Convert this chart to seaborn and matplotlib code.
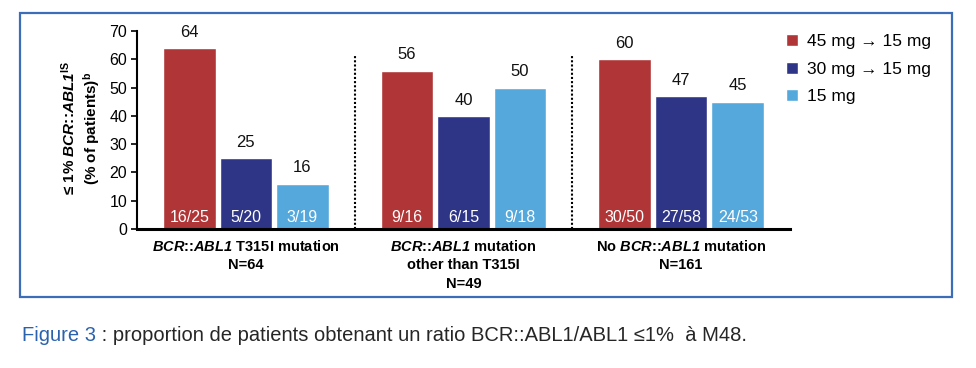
import pandas as pd
import seaborn as sns
import matplotlib.pyplot as plt
from matplotlib.patches import Rectangle

# données
groupes = [
    r"$BCR$::$ABL1$ T315I mutation" + "\nN=64",
    r"$BCR$::$ABL1$ mutation" + "\nother than T315I\nN=49",
    r"No $BCR$::$ABL1$ mutation" + "\nN=161",
]
doses = ["45 mg \u2192 15 mg", "30 mg \u2192 15 mg", "15 mg"]
val_45 = [64, 56, 60]
val_30 = [25, 40, 47]
val_15 = [16, 50, 45]
n_45 = ["16/25", "9/16", "30/50"]
n_30 = ["5/20", "6/15", "27/58"]
n_15 = ["3/19", "9/18", "24/53"]
couleurs = ["#b03537", "#2e3586", "#55a8dc"]

police = "Liberation Sans"

sns.set_style("white")
plt.rcParams["font.family"] = [police, "DejaVu Sans"]
plt.rcParams["mathtext.fontset"] = "custom"
plt.rcParams["mathtext.rm"] = f"{police}:italic:bold"
plt.rcParams["mathtext.it"] = f"{police}:italic:bold"
plt.rcParams["mathtext.bf"] = f"{police}:bold"
for k in ["text.color", "axes.edgecolor", "xtick.color", "ytick.color", "axes.labelcolor"]:
    plt.rcParams[k] = "black"

df = pd.DataFrame({
    "groupe": groupes * 3,
    "dose": [d for d in doses for _ in groupes],
    "valeur": val_45 + val_30 + val_15,
    "n": n_45 + n_30 + n_15,
})

fig = plt.figure(figsize=(9.76, 3.68), dpi=100)
ax = fig.add_axes([137 / 976, 1 - 229 / 368, (790 - 137) / 976, (229 - 31) / 368])

sns.barplot(data=df, x="groupe", y="valeur", hue="dose", palette=couleurs,
            width=0.78, gap=0.07, saturation=1, ax=ax, legend=True)

ax.set_xlim(-0.5, 2.5)
ax.set_ylim(0, 70)
ax.set_yticks(range(0, 71, 10))
sns.despine(ax=ax)
ax.spines["left"].set_linewidth(1.5)
ax.spines["bottom"].set_linewidth(2.2)
ax.tick_params(axis="y", length=4, width=1.2, labelsize=11.5, pad=3, left=True)
ax.tick_params(axis="x", length=0, labelsize=10.5, pad=7)
for lab in ax.get_xticklabels():
    lab.set_fontweight("bold")
    lab.set_linespacing(1.4)
ax.set_xlabel("")
ax.set_ylabel("")

# séparateurs pointillés
ax.vlines([0.5, 1.5], 0, 61, colors="black", linestyles=(0, (1, 1)), lw=1.5)

# étiquettes
for cont, nn in zip(ax.containers, [n_45, n_30, n_15]):
    ax.bar_label(cont, fmt="%d", padding=6, fontsize=12, color="#111111")
    for p, t in zip(cont.patches, nn):
        ax.text(p.get_x() + p.get_width() / 2, 1.3, t, color="white",
                ha="center", va="bottom", fontsize=11.5)

fig.text(81 / 976, 1 - 128 / 368,
         "\u2264 1% $BCR$::$ABL1^{\\mathbf{IS}}$" + "\n(% of patients)$^{\\mathbf{b}}$",
         rotation=90, ha="center", va="center", fontsize=11, fontweight="bold",
         multialignment="center")

handles, labels = ax.get_legend_handles_labels()
ax.legend(handles, labels, loc="upper left", bbox_to_anchor=(786 / 976, 1 - 34 / 368),
          bbox_transform=fig.transFigure, frameon=False, borderpad=0, borderaxespad=0,
          handlelength=0.7, handleheight=0.7, handletextpad=0.5, labelspacing=0.72,
          fontsize=12.5)

# cadre bleu
fig.patches.append(Rectangle((20 / 976, 1 - 297 / 368), (952 - 20) / 976, (297 - 13) / 368,
                             transform=fig.transFigure, fill=False,
                             edgecolor="#3b6db8", lw=1.6))

# légende de la figure
t1 = fig.text(22 / 976, 1 - 341 / 368, "Figure 3", color="#2b62ad", fontsize=14.5,
              va="baseline")
ax.annotate(" : proportion de patients obtenant un ratio BCR::ABL1/ABL1 \u22641%  \u00e0 M48.",
            xy=(1, 0), xycoords=t1, va="bottom", ha="left", fontsize=14.5,
            color="#262626", annotation_clip=False)

fig.savefig("out.png", dpi=100)
print("[OK] out.png")
